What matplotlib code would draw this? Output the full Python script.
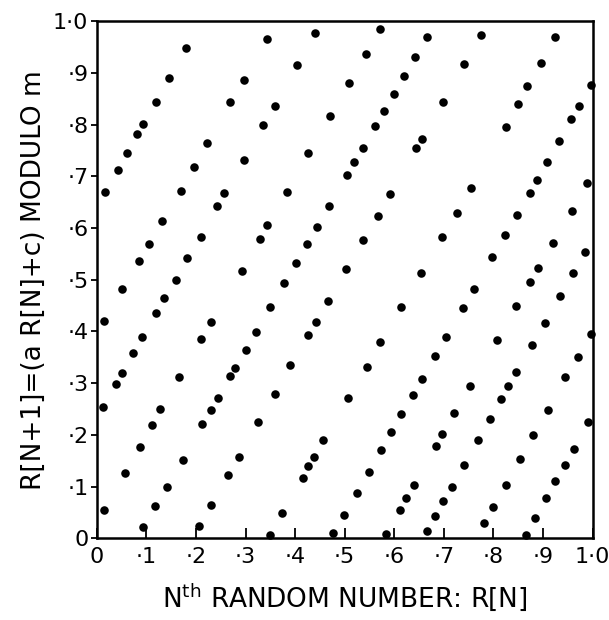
import matplotlib
matplotlib.use("Agg")
import matplotlib.pyplot as plt
import numpy as np

# (R[N], R[N+1]) pairs, grouped by region
upper_left = [(0.440,0.977),(0.343,0.966),(0.181,0.948),(0.146,0.890),(0.296,0.886),(0.404,0.916),
    (0.119,0.844),(0.269,0.844),(0.359,0.837),(0.470,0.817),(0.094,0.801),(0.336,0.800),(0.081,0.781),
    (0.062,0.746),(0.222,0.764),(0.296,0.732),(0.427,0.746),(0.042,0.712),(0.196,0.719),(0.017,0.670),
    (0.169,0.672),(0.257,0.668),(0.383,0.669),(0.243,0.643),(0.469,0.643),(0.132,0.613),(0.343,0.605),
    (0.444,0.603),(0.210,0.583),(0.329,0.579),(0.105,0.569),(0.424,0.569),(0.085,0.537),(0.183,0.542),
    (0.402,0.533),(0.292,0.517),(0.159,0.500),(0.378,0.493),(0.052,0.483),(0.136,0.464),(0.466,0.458),
    (0.349,0.448)]
upper_right = [(0.572,0.985),(0.665,0.970),(0.775,0.974),(0.925,0.969),(0.542,0.936),(0.641,0.930),
    (0.741,0.917),(0.895,0.920),(0.620,0.894),(0.509,0.880),(0.868,0.874),(0.997,0.877),(0.599,0.859),
    (0.698,0.844),(0.849,0.840),(0.973,0.837),(0.580,0.826),(0.956,0.810),(0.562,0.798),(0.825,0.796),
    (0.655,0.772),(0.933,0.768),(0.644,0.754),(0.536,0.755),(0.908,0.727),(0.519,0.727),(0.505,0.702),
    (0.887,0.693),(0.988,0.687),(0.755,0.678),(0.874,0.668),(0.591,0.666),(0.726,0.629),(0.847,0.625),
    (0.958,0.633),(0.567,0.623),(0.697,0.583),(0.824,0.587),(0.537,0.576),(0.919,0.572),(0.985,0.554),
    (0.798,0.544),(0.503,0.521),(0.654,0.514),(0.889,0.522),(0.874,0.495),(0.960,0.513),(0.760,0.482),
    (0.934,0.468),(0.613,0.448),(0.738,0.446),(0.845,0.449)]
lower_left = [(0.015,0.420),(0.120,0.435),(0.092,0.389),(0.073,0.358),(0.051,0.319),(0.039,0.298),
    (0.013,0.253),(0.166,0.312),(0.128,0.250),(0.111,0.219),(0.087,0.177),(0.173,0.151),(0.058,0.127),
    (0.141,0.100),(0.014,0.055),(0.118,0.062),(0.094,0.021),(0.207,0.024),(0.230,0.065),(0.265,0.122),
    (0.286,0.157),(0.325,0.224),(0.212,0.222),(0.230,0.249),(0.244,0.271),(0.269,0.313),(0.278,0.330),
    (0.300,0.365),(0.321,0.399),(0.211,0.385),(0.231,0.418),(0.359,0.280),(0.390,0.335),(0.426,0.393),
    (0.442,0.419),(0.457,0.191),(0.438,0.158),(0.427,0.139),(0.415,0.117),(0.373,0.048),(0.349,0.006),
    (0.477,0.010)]
lower_right = [(0.903,0.417),(0.997,0.396),(0.571,0.380),(0.704,0.389),(0.808,0.384),(0.877,0.374),
    (0.970,0.351),(0.682,0.353),(0.544,0.332),(0.656,0.308),(0.845,0.322),(0.945,0.311),(0.830,0.295),
    (0.753,0.294),(0.637,0.278),(0.506,0.272),(0.816,0.269),(0.614,0.240),(0.721,0.242),(0.909,0.249),
    (0.792,0.230),(0.991,0.224),(0.594,0.206),(0.697,0.201),(0.880,0.200),(0.769,0.191),(0.685,0.179),
    (0.574,0.171),(0.962,0.172),(0.853,0.153),(0.741,0.142),(0.944,0.142),(0.548,0.128),(0.640,0.104),
    (0.716,0.099),(0.825,0.103),(0.925,0.110),(0.524,0.088),(0.624,0.077),(0.699,0.072),(0.906,0.077),
    (0.611,0.054),(0.800,0.060),(0.499,0.045),(0.682,0.044),(0.884,0.039),(0.781,0.029),(0.665,0.015),
    (0.584,0.008),(0.865,0.006)]

tick_values = [0, 0.1, 0.2, 0.3, 0.4, 0.5, 0.6, 0.7, 0.8, 0.9, 1.0]
tick_labels = ["0", "\u00b71", "\u00b72", "\u00b73", "\u00b74", "\u00b75",
               "\u00b76", "\u00b77", "\u00b78", "\u00b79", "1\u00b70"]

pts = np.array(upper_left + upper_right + lower_left + lower_right)

plt.rcParams['font.family'] = ['DejaVu Sans']
fig = plt.figure(figsize=(6.09, 6.20), dpi=100)
ax = fig.add_axes([0.1588, 0.1318, 0.8144, 0.8339])
ax.scatter(pts[:, 0], pts[:, 1], s=38, color='black', linewidths=0, clip_on=False, zorder=3)

ax.set_xlim(0, 1)
ax.set_ylim(0, 1)
ax.set_xticks(tick_values)
ax.set_xticklabels(tick_labels)
ax.set_yticks(tick_values)
ax.set_yticklabels(tick_labels)
ax.tick_params(axis='x', direction='in', length=7, width=1.3, labelsize=16, pad=6)
ax.tick_params(axis='y', direction='out', length=4, width=1.3, labelsize=16, pad=2)
for sp in ax.spines.values():
    sp.set_linewidth(1.8)

ax.set_xlabel("N$^{\\mathrm{th}}$ RANDOM NUMBER: R[N]", fontsize=19, labelpad=11)
ax.set_ylabel("R[N+1]=(a R[N]+c) MODULO m", fontsize=19, labelpad=4)

fig.savefig("out.png", dpi=100, facecolor='white')
